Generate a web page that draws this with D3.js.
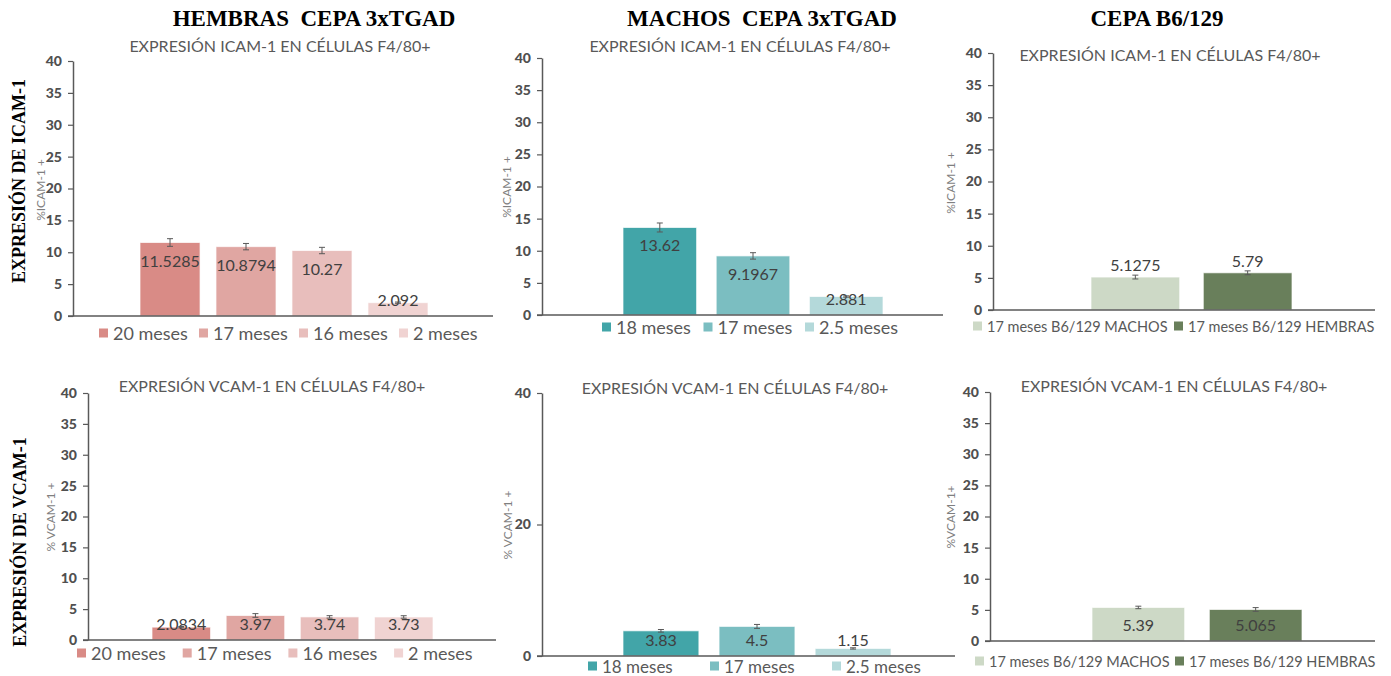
<!DOCTYPE html>
<html><head><meta charset="utf-8">
<script src="https://cdn.jsdelivr.net/npm/d3@7"></script>
<style>body{margin:0;background:#fff}svg{display:block}</style>
</head><body>
<svg id="c" width="1391" height="676"></svg>
<script>
// ---------- DATA ----------
const hembrasCats = ["20 meses","17 meses","16 meses","2 meses"];
const hembrasIcam = [11.5285,10.8794,10.27,2.092];
const hembrasIcamErr = [0.6,0.5,0.5,0.1];
const hembrasVcam = [2.0834,3.97,3.74,3.73];
const hembrasVcamErr = [0.1,0.3,0.2,0.2];

const machosCats = ["18 meses","17 meses","2.5 meses"];
const machosIcam = [13.62,9.1967,2.881];
const machosIcamErr = [0.7,0.5,0.1];
const machosVcam = [3.83,4.5,1.15];
const machosVcamErr = [0.2,0.3,0.1];

const b6Cats = ["17 meses B6/129 MACHOS","17 meses B6/129 HEMBRAS"];
const b6Icam = [5.1275,5.79];
const b6IcamErr = [0.3,0.3];
const b6Vcam = [5.39,5.065];
const b6VcamErr = [0.2,0.3];

const ticks5 = [0,5,10,15,20,25,30,35,40];
const ticks20 = [0,20,40];

const headers = ["HEMBRAS\u00A0\u00A0CEPA 3xTGAD","MACHOS\u00A0\u00A0CEPA 3xTGAD","CEPA B6/129"];
const rowLabels = ["EXPRESIÓN DE ICAM-1","EXPRESIÓN DE VCAM-1"];
const icamTitle = "EXPRESIÓN ICAM-1 EN CÉLULAS F4/80+";
const vcamTitle = "EXPRESIÓN VCAM-1 EN CÉLULAS F4/80+";

const pinkColors = ["#d98b86","#e0a6a2","#e8bebc","#f0d3d2"];
const tealColors = ["#42a5a8","#7bbec1","#b4d9da"];
const greenColors = ["#cdd9c6","#697f5b"];

// ---------- LAYOUT ----------
const panels = [
  {cats:hembrasCats, vals:hembrasIcam, errs:hembrasIcamErr, colors:pinkColors, ticks:ticks5,
   ylabel:"%ICAM-1 +", title:icamTitle, ax:73, y40:61, y0:316, xEnd:493, barL:140, barR:428,
   tX:280, tY:52, ylX:40, ylY:190, legX:99, legStep:100, legY:333, legFont:18, mode:"inside"},
  {cats:machosCats, vals:machosIcam, errs:machosIcamErr, colors:tealColors, ticks:ticks5,
   ylabel:"%ICAM-1 +", title:icamTitle, ax:542, y40:58, y0:315, xEnd:943, barL:623, barR:883,
   tX:740, tY:52, ylX:506, ylY:187, legX:602, legStep:101.5, legY:327, legFont:18, mode:"inside"},
  {cats:b6Cats, vals:b6Icam, errs:b6IcamErr, colors:greenColors, ticks:ticks5,
   ylabel:"%ICAM-1 +", title:icamTitle, ax:993, y40:53, y0:310, xEnd:1375, barL:1091, barR:1292,
   tX:1170, tY:61, ylX:950, ylY:183, legX:973, legStep:201, legY:326, legFont:14.5, mode:"above"},
  {cats:hembrasCats, vals:hembrasVcam, errs:hembrasVcamErr, colors:pinkColors, ticks:ticks5,
   ylabel:"% VCAM-1 +", title:vcamTitle, ax:88, y40:393, y0:640, xEnd:496, barL:152, barR:433,
   tX:272, tY:392, ylX:50, ylY:517, legX:77, legStep:105.7, legY:653, legFont:18, mode:"inside"},
  {cats:machosCats, vals:machosVcam, errs:machosVcamErr, colors:tealColors, ticks:ticks20,
   ylabel:"% VCAM-1 +", title:vcamTitle, ax:542, y40:393, y0:656, xEnd:955, barL:623, barR:891,
   tX:735, tY:394, ylX:507, ylY:525, legX:588, legStep:122, legY:666, legFont:17, mode:"inside"},
  {cats:b6Cats, vals:b6Vcam, errs:b6VcamErr, colors:greenColors, ticks:ticks5,
   ylabel:"%VCAM-1+", title:vcamTitle, ax:990, y40:392, y0:641, xEnd:1375, barL:1092, barR:1302,
   tX:1174, tY:392, ylX:950, ylY:517, legX:975, legStep:200, legY:661, legFont:14.5, mode:"inside"}
];
const headerPos = [[314,26],[762,26],[1157,26]];
const rowLabelPos = [[19,181],[20,542]];

const svg = d3.select("#c");
const AX = "#595959";
const FONT = "Lato, 'Open Sans', sans-serif";

function drawPanel(p){
  const g = svg.append("g");
  const y = d3.scaleLinear().domain([0,40]).range([p.y0,p.y40]);
  const x = d3.scaleBand().domain(p.cats).range([p.barL,p.barR]).paddingInner(0.21).paddingOuter(0);

  // bars
  g.selectAll("rect.bar").data(p.cats).join("rect")
    .attr("class","bar")
    .attr("x",c=>x(c)).attr("width",x.bandwidth())
    .attr("y",(c,i)=>y(p.vals[i])).attr("height",(c,i)=>y(0)-y(p.vals[i]))
    .attr("fill",(c,i)=>p.colors[i])
    .attr("stroke","#ffffff").attr("stroke-opacity",0.7).attr("stroke-width",1);

  // value labels
  g.selectAll("text.val").data(p.cats).join("text")
    .attr("class","val")
    .attr("x",c=>x(c)+x.bandwidth()/2)
    .attr("y",(c,i)=> p.mode==="above" ? y(p.vals[i])-6 : Math.min(y(p.vals[i])+24, y(0)-10))
    .attr("text-anchor","middle")
    .attr("fill","#404040")
    .style("font-family",FONT).style("font-size","16px")
    .text((c,i)=>String(p.vals[i]));

  // error bars
  const eb = g.selectAll("g.err").data(p.cats).join("g").attr("class","err");
  eb.append("line")
    .attr("x1",c=>x(c)+x.bandwidth()/2).attr("x2",c=>x(c)+x.bandwidth()/2)
    .attr("y1",(c,i)=>y(p.vals[i]-p.errs[i])).attr("y2",(c,i)=>y(p.vals[i]+p.errs[i]));
  eb.append("line")
    .attr("x1",c=>x(c)+x.bandwidth()/2-3).attr("x2",c=>x(c)+x.bandwidth()/2+3)
    .attr("y1",(c,i)=>y(p.vals[i]+p.errs[i])).attr("y2",(c,i)=>y(p.vals[i]+p.errs[i]));
  eb.append("line")
    .attr("x1",c=>x(c)+x.bandwidth()/2-3).attr("x2",c=>x(c)+x.bandwidth()/2+3)
    .attr("y1",(c,i)=>y(p.vals[i]-p.errs[i])).attr("y2",(c,i)=>y(p.vals[i]-p.errs[i]));
  eb.selectAll("line").attr("stroke","#595959").attr("stroke-width",1);

  // y axis
  const ya = g.append("g").attr("transform",`translate(${p.ax},0)`)
    .call(d3.axisLeft(y).tickValues(p.ticks).tickSize(5).tickPadding(6).tickSizeOuter(0));
  ya.select(".domain").attr("stroke",AX).attr("stroke-width",1.5);
  ya.selectAll(".tick line").attr("stroke",AX).attr("stroke-width",1.2);
  ya.selectAll(".tick text").attr("fill","#505050")
    .style("font-family",FONT).style("font-size","14px").style("font-weight","900");

  // x axis line
  g.append("line").attr("x1",p.ax-5).attr("x2",p.xEnd)
    .attr("y1",y(0)).attr("y2",y(0)).attr("stroke",AX).attr("stroke-width",1.5);

  // title
  g.append("text").attr("x",p.tX).attr("y",p.tY).attr("text-anchor","middle")
    .attr("fill","#595959").style("font-family",FONT).style("font-size","16px")
    .text(p.title);

  // y label
  g.append("text").attr("transform",`translate(${p.ylX},${p.ylY}) rotate(-90)`)
    .attr("text-anchor","middle").attr("dominant-baseline","central")
    .attr("fill","#7f7f7f").style("font-family",FONT).style("font-size","12px")
    .text(p.ylabel);

  // legend
  const lg = g.selectAll("g.leg").data(p.cats).join("g").attr("class","leg")
    .attr("transform",(c,i)=>`translate(${p.legX+i*p.legStep},${p.legY})`);
  lg.append("rect").attr("x",0).attr("y",-4.5).attr("width",9).attr("height",9)
    .attr("fill",(c,i)=>p.colors[i]);
  lg.append("text").attr("x",14).attr("y",0).attr("dominant-baseline","central")
    .attr("fill","#595959").style("font-family",FONT).style("font-size",p.legFont+"px")
    .text(c=>c);
}
panels.forEach(drawPanel);

// headers
svg.selectAll("text.hdr").data(headers).join("text").attr("class","hdr")
  .attr("x",(d,i)=>headerPos[i][0]).attr("y",(d,i)=>headerPos[i][1])
  .attr("text-anchor","middle").attr("fill","#000")
  .style("font-family","'Liberation Serif', 'Times New Roman', serif")
  .style("font-size","23px").style("font-weight","bold")
  .text(d=>d);

// row labels
svg.selectAll("text.row").data(rowLabels).join("text").attr("class","row")
  .attr("transform",(d,i)=>`translate(${rowLabelPos[i][0]},${rowLabelPos[i][1]}) rotate(-90)`)
  .attr("text-anchor","middle").attr("dominant-baseline","central").attr("fill","#000")
  .style("font-family","'Liberation Serif', 'Times New Roman', serif")
  .style("font-size","18px").style("font-weight","bold")
  .text(d=>d);
</script>
</body></html>
